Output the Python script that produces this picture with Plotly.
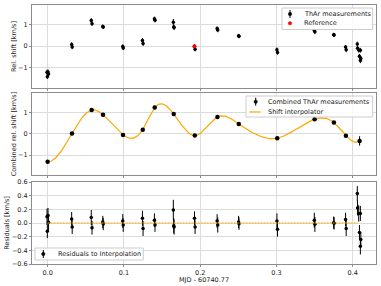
import numpy as np
import plotly.graph_objects as go

# ---------------- data ----------------
# Combined ThAr measurements (per epoch)
comb_x = [0.0, 0.0319, 0.0577, 0.0726, 0.0988, 0.1247, 0.1404, 0.1653,
          0.1929, 0.2226, 0.2506, 0.3010, 0.3500, 0.3753, 0.3910, 0.4090]
comb_y = [-1.31, 0.02, 1.12, 0.90, -0.05, 0.20, 1.24, 0.93,
          -0.08, 0.79, 0.47, -0.20, 0.69, 0.53, -0.09, -0.33]
comb_err = [0.05, 0.05, 0.05, 0.05, 0.05, 0.05, 0.05, 0.05,
            0.05, 0.05, 0.05, 0.05, 0.05, 0.05, 0.05, 0.22]

# Individual ThAr measurements
raw_x = [-0.0008, -0.0004, 0.0005, 0.0012,
         0.0315, 0.0322, 0.0572, 0.0582, 0.0723, 0.0729,
         0.0985, 0.0991, 0.1243, 0.1251, 0.1400, 0.1408,
         0.1648, 0.1653, 0.1658, 0.1925, 0.1933,
         0.2222, 0.2230, 0.2503, 0.2509, 0.3006, 0.3014,
         0.3496, 0.3504, 0.3750, 0.3756, 0.3906, 0.3914,
         0.4060, 0.4063, 0.4078, 0.4100, 0.4088, 0.4106, 0.4100]
raw_y = [-1.22, -1.43, -1.20, -1.30,
         0.08, -0.04, 1.20, 1.05, 0.92, 0.89,
         -0.02, -0.08, 0.27, 0.12, 1.28, 1.21,
         1.12, 0.89, 0.87, -0.01, -0.14,
         0.82, 0.76, 0.485, 0.46, -0.17, -0.29,
         0.73, 0.67, 0.535, 0.525, -0.04, -0.17,
         0.10, -0.10, -0.18, -0.19, -0.47, -0.57, -0.67]
raw_err = [0.12, 0.10, 0.11, 0.12,
           0.10, 0.10, 0.11, 0.10, 0.09, 0.09,
           0.10, 0.10, 0.11, 0.11, 0.10, 0.10,
           0.15, 0.11, 0.11, 0.10, 0.10,
           0.10, 0.11, 0.09, 0.09, 0.11, 0.11,
           0.11, 0.11, 0.09, 0.09, 0.10, 0.11,
           0.11, 0.11, 0.12, 0.11, 0.11, 0.11, 0.12]

# Residuals to interpolation
res_y = [0.09, -0.12, 0.11, 0.01,
         0.06, -0.06, 0.08, -0.07, 0.015, -0.015,
         0.03, -0.03, 0.07, -0.08, 0.04, -0.03,
         0.19, -0.04, -0.06, 0.07, -0.06,
         0.03, -0.03, 0.015, -0.01, 0.03, -0.09,
         0.04, -0.02, 0.005, -0.005, 0.05, -0.08,
         0.43, 0.22, 0.14, 0.14, -0.14, -0.24, -0.34]

ref_x = [0.1925]
ref_y = [0.0]

zero_x = [0.0, 0.4063]
zero_y = [0.0, 0.0]


# ---------------- shift interpolator (not-a-knot cubic spline of combined points) ----
def cubic_spline_nak(x, y, xs):
    x = np.asarray(x, float) * 100.0
    y = np.asarray(y, float)
    xs = np.asarray(xs, float) * 100.0
    n = len(x)
    m = n - 1
    A = np.zeros((4 * m, 4 * m))
    b = np.zeros(4 * m)
    r = 0
    for i in range(m):
        h = x[i + 1] - x[i]
        A[r, 4 * i] = 1.0
        b[r] = y[i]
        r += 1
        A[r, 4 * i:4 * i + 4] = [1.0, h, h * h, h ** 3]
        b[r] = y[i + 1]
        r += 1
    for i in range(m - 1):
        h = x[i + 1] - x[i]
        A[r, 4 * i:4 * i + 4] = [0.0, 1.0, 2 * h, 3 * h * h]
        A[r, 4 * (i + 1) + 1] = -1.0
        r += 1
        A[r, 4 * i:4 * i + 4] = [0.0, 0.0, 2.0, 6 * h]
        A[r, 4 * (i + 1) + 2] = -2.0
        r += 1
    A[r, 3] = 1.0
    A[r, 7] = -1.0
    r += 1
    A[r, 4 * (m - 2) + 3] = 1.0
    A[r, 4 * (m - 1) + 3] = -1.0
    coef = np.linalg.solve(A, b).reshape(m, 4)
    idx = np.clip(np.searchsorted(x, xs) - 1, 0, m - 1)
    t = xs - x[idx]
    c = coef[idx]
    return c[:, 0] + c[:, 1] * t + c[:, 2] * t ** 2 + c[:, 3] * t ** 3


interp_x = np.linspace(comb_x[0], comb_x[-1], 500)
interp_y = cubic_spline_nak(comb_x, comb_y, interp_x)

# ---------------- figure ----------------
FONT = "DejaVu Sans"
FS = 6.5
ORANGE = "#FFA500"
L, R, T, B = 32, 5, 5, 22
W, H = 381, 286
PW, PH = W - L - R, H - T - B


def px2x(px):
    return (px - L) / PW


def py2y(py):
    return (T + PH - py) / PH


fig = go.Figure()

# Panel 1
fig.add_trace(go.Scatter(
    x=raw_x, y=raw_y, mode="markers", name="ThAr measurements", showlegend=False,
    marker=dict(color="black", size=3.5),
    error_y=dict(type="data", array=raw_err, color="black", thickness=1, width=0),
    xaxis="x", yaxis="y"))
fig.add_trace(go.Scatter(
    x=ref_x, y=ref_y, mode="markers", name="Reference", showlegend=False,
    marker=dict(color="red", size=4),
    xaxis="x", yaxis="y"))

# Panel 2
fig.add_trace(go.Scatter(
    x=interp_x, y=interp_y, mode="lines", name="Shift interpolator", showlegend=False,
    line=dict(color=ORANGE, width=1.2),
    xaxis="x2", yaxis="y2"))
fig.add_trace(go.Scatter(
    x=comb_x, y=comb_y, mode="markers", name="Combined ThAr measurements", showlegend=False,
    marker=dict(color="black", size=4.5),
    error_y=dict(type="data", array=comb_err, color="black", thickness=1, width=0),
    xaxis="x2", yaxis="y2"))

# Panel 3
fig.add_trace(go.Scatter(
    x=raw_x, y=res_y, mode="markers", name="Residuals to Interpolation", showlegend=False,
    marker=dict(color="black", size=3.5),
    error_y=dict(type="data", array=raw_err, color="black", thickness=1, width=0),
    xaxis="x3", yaxis="y3"))
fig.add_trace(go.Scatter(
    x=zero_x, y=zero_y, mode="lines", showlegend=False,
    line=dict(color=ORANGE, width=1, dash="2px,1px"),
    xaxis="x3", yaxis="y3"))

axis_common = dict(showline=True, linecolor="#8c8c8c", linewidth=1, mirror=True,
                   showgrid=True, gridcolor="#dcdcdc", gridwidth=1,
                   ticks="outside", ticklen=2, tickcolor="#8c8c8c",
                   zeroline=False, automargin=False,
                   tickfont=dict(size=FS, color="#222", family=FONT))
xr = [-0.0205, 0.4305]
xt = dict(tickvals=[0.0, 0.1, 0.2, 0.3, 0.4])

# ---- legends drawn as boxes, glyphs and text ----
shapes = []
annotations = []


def legend_box(x0, y0, x1, y1):
    shapes.append(dict(type="rect", xref="paper", yref="paper",
                       x0=px2x(x0), x1=px2x(x1), y0=py2y(y1), y1=py2y(y0),
                       line=dict(color="#cccccc", width=1),
                       fillcolor="rgba(255,255,255,0.85)", layer="above"))


def glyph_errorbar(cx, cy, r=1.7, half=4.0):
    shapes.append(dict(type="line", xref="paper", yref="paper",
                       x0=px2x(cx), x1=px2x(cx), y0=py2y(cy - half), y1=py2y(cy + half),
                       line=dict(color="black", width=1), layer="above"))
    shapes.append(dict(type="circle", xref="paper", yref="paper",
                       x0=px2x(cx - r), x1=px2x(cx + r), y0=py2y(cy + r), y1=py2y(cy - r),
                       line=dict(color="black", width=0.5), fillcolor="black", layer="above"))


def glyph_dot(cx, cy, color, r=1.7):
    shapes.append(dict(type="circle", xref="paper", yref="paper",
                       x0=px2x(cx - r), x1=px2x(cx + r), y0=py2y(cy + r), y1=py2y(cy - r),
                       line=dict(color=color, width=0.5), fillcolor=color, layer="above"))


def glyph_line(x0, x1, cy, color):
    shapes.append(dict(type="line", xref="paper", yref="paper",
                       x0=px2x(x0), x1=px2x(x1), y0=py2y(cy), y1=py2y(cy),
                       line=dict(color=color, width=1.2), layer="above"))


def legend_text(tx, ty, text, size=FS):
    annotations.append(dict(text=text, xref="paper", yref="paper", x=px2x(tx), y=py2y(ty),
                            xanchor="left", yanchor="middle", showarrow=False,
                            font=dict(size=size, family=FONT, color="#222")))


# legend 1
legend_box(282, 8, 372.7, 29.5)
glyph_errorbar(290, 14.0)
legend_text(302, 14.0, "ThAr measurements")
glyph_dot(290, 23.3, "red")
legend_text(302, 23.3, "Reference")
# legend 2
legend_box(246, 96, 372.7, 117)
glyph_errorbar(255.7, 101.7)
legend_text(266, 101.7, "Combined ThAr measurements")
glyph_line(249.3, 260.7, 112, ORANGE)
legend_text(266, 112, "Shift interpolator")
# legend 3
legend_box(35, 248, 143.3, 260)
glyph_errorbar(43.3, 254)
legend_text(55.5, 254, "Residuals to Interpolation")

# x-axis title
annotations.append(dict(text="MJD - 60740.77", xref="paper", yref="paper",
                        x=0.5, y=py2y(280), xanchor="center", yanchor="middle",
                        showarrow=False, font=dict(size=FS, family=FONT, color="#222")))

fig.update_layout(
    width=W, height=H,
    margin=dict(l=L, r=R, t=T, b=B, autoexpand=False),
    paper_bgcolor="white", plot_bgcolor="white",
    font=dict(family=FONT, size=FS, color="#222"),
    showlegend=False,
    xaxis=dict(axis_common, domain=[0, 1], anchor="y", range=xr, showticklabels=False, **xt),
    xaxis2=dict(axis_common, domain=[0, 1], anchor="y2", range=xr, showticklabels=False,
                matches="x", **xt),
    xaxis3=dict(axis_common, domain=[0, 1], anchor="y3", range=xr, matches="x",
                tickformat=".1f", **xt),
    yaxis=dict(axis_common, domain=[py2y(88), 1.0], anchor="x", range=[-1.95, 1.92],
               tickvals=[-1, 0, 1],
               title=dict(text="Rel. shift [km/s]", font=dict(size=FS, family=FONT), standoff=0)),
    yaxis2=dict(axis_common, domain=[py2y(175), py2y(93)], anchor="x2", range=[-1.93, 1.92],
                tickvals=[-1, 0, 1],
                title=dict(text="Combined rel. shift [km/s]", font=dict(size=FS, family=FONT),
                           standoff=0)),
    yaxis3=dict(axis_common, domain=[0.0, py2y(182)], anchor="x3", range=[-0.6, 0.6],
                tickvals=[-0.6, -0.4, -0.2, 0.0, 0.2, 0.4, 0.6], tickformat=".1f",
                title=dict(text="Residuals [km/s]", font=dict(size=FS, family=FONT), standoff=1)),
    shapes=shapes,
    annotations=annotations,
)

fig.write_html("out.html", config={"displayModeBar": False},
               post_script="document.body.style.margin='0';document.body.style.overflow='hidden';")
